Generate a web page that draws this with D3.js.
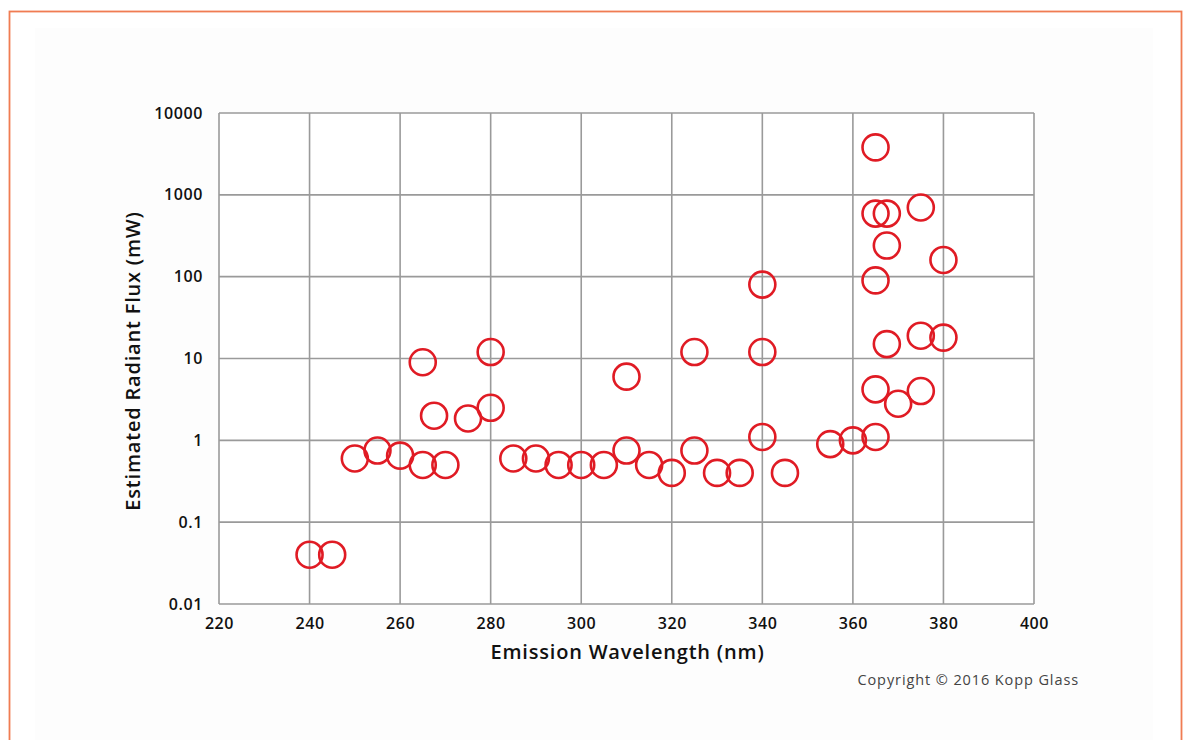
<!DOCTYPE html>
<html>
<head>
<meta charset="utf-8">
<script src="https://cdn.jsdelivr.net/npm/d3@7"></script>
<style>
  body { margin: 0; background: #fff; }
  svg { display: block; }
</style>
</head>
<body>
<script>
// emission wavelength (nm) and estimated radiant flux (mW)
const wavelengths = [240, 245, 250, 255, 260, 265, 270, 265, 267.5, 275, 280, 280,
  285, 290, 295, 300, 305, 310, 310, 315, 320, 325, 325, 330, 335,
  340, 340, 340, 345, 355, 360, 365, 365, 365, 365, 365,
  367.5, 367.5, 367.5, 370, 375, 375, 375, 380, 380]
const flux = [0.04, 0.04, 0.6, 0.75, 0.65, 0.5, 0.5, 9, 2, 1.85, 2.5, 12,
  0.6, 0.6, 0.5, 0.5, 0.5, 6, 0.75, 0.5, 0.4, 12, 0.75, 0.4, 0.4,
  80, 12, 1.1, 0.4, 0.9, 1, 1.1, 4.2, 90, 590, 3800,
  590, 240, 15, 2.8, 4, 19, 700, 18, 160]

const xTicks = [220, 240, 260, 280, 300, 320, 340, 360, 380, 400]
const yTicks = [0.01, 0.1, 1, 10, 100, 1000, 10000]
const yTickLabels = ["0.01", "0.1", "1", "10", "100", "1000", "10000"]

const width = 1186, height = 740
const margin = {top: 113, right: 152, bottom: 136, left: 219}
const font = "'Open Sans', sans-serif"

const svg = d3.select("body").append("svg")
  .attr("width", width)
  .attr("height", height)

// frame
svg.append("rect")
  .attr("x", 35).attr("y", 28)
  .attr("width", 1118).attr("height", 720)
  .attr("fill", "#fdfdfd")
svg.append("rect")
  .attr("x", 9.5).attr("y", 11.5)
  .attr("width", 1172).attr("height", 740)
  .attr("fill", "none")
  .attr("stroke", "#f07c52")
  .attr("stroke-width", 1.8)

let x = d3.scaleLinear()
  .domain([220, 400])
  .range([margin.left, width - margin.right])

let y = d3.scaleLog()
  .domain([0.01, 10000])
  .range([height - margin.bottom, margin.top])

// plot background
svg.append("rect")
  .attr("x", x(220)).attr("y", y(10000))
  .attr("width", x(400) - x(220)).attr("height", y(0.01) - y(10000))
  .attr("fill", "#fff")

// grid
svg.append("g")
  .selectAll("line")
  .data(xTicks)
  .join("line")
  .attr("x1", d => x(d)).attr("x2", d => x(d))
  .attr("y1", y(10000)).attr("y2", y(0.01))
  .attr("stroke", "#9a9a9a")
  .attr("stroke-width", 1.6)

svg.append("g")
  .selectAll("line")
  .data(yTicks)
  .join("line")
  .attr("x1", x(220)).attr("x2", x(400))
  .attr("y1", d => y(d)).attr("y2", d => y(d))
  .attr("stroke", "#9a9a9a")
  .attr("stroke-width", 1.6)

// axes (labels only)
let xAxis = svg.append("g")
  .attr("transform", `translate(0,${y(0.01)})`)
  .call(d3.axisBottom(x).tickValues(xTicks).tickSize(0).tickPadding(14).tickFormat(d3.format("d")))
xAxis.select(".domain").remove()
xAxis.selectAll("text")
  .attr("font-family", font).attr("font-size", 16).attr("font-weight", 600)
  .attr("letter-spacing", 0.6).attr("fill", "#111")

let yAxis = svg.append("g")
  .attr("transform", `translate(${x(220)},0)`)
  .call(d3.axisLeft(y).tickValues(yTicks).tickSize(0).tickPadding(16)
    .tickFormat((d, i) => yTickLabels[i]))
yAxis.select(".domain").remove()
yAxis.selectAll("text")
  .attr("font-family", font).attr("font-size", 16).attr("font-weight", 600)
  .attr("letter-spacing", 0.6).attr("fill", "#111")

// points
svg.append("g")
  .selectAll("circle")
  .data(wavelengths.map((w, i) => ({w: w, f: flux[i]})))
  .join("circle")
  .attr("cx", d => x(d.w))
  .attr("cy", d => y(d.f))
  .attr("r", 13)
  .attr("fill", "none")
  .attr("stroke", "#e01b24")
  .attr("stroke-width", 2.6)

// titles
svg.append("text")
  .attr("x", (x(220) + x(400)) / 2 + 1)
  .attr("y", 659)
  .attr("text-anchor", "middle")
  .attr("font-family", font).attr("font-size", 20).attr("font-weight", 600)
  .attr("letter-spacing", 0.8).attr("fill", "#111")
  .text("Emission Wavelength (nm)")

svg.append("text")
  .attr("transform", "translate(140,361) rotate(-90)")
  .attr("text-anchor", "middle")
  .attr("font-family", font).attr("font-size", 20).attr("font-weight", 600)
  .attr("letter-spacing", 0.8).attr("fill", "#111")
  .text("Estimated Radiant Flux (mW)")

svg.append("text")
  .attr("x", 1079)
  .attr("y", 685)
  .attr("text-anchor", "end")
  .attr("font-family", font).attr("font-size", 14.5)
  .attr("letter-spacing", 0.9).attr("fill", "#444")
  .text("Copyright © 2016 Kopp Glass")
</script>
</body>
</html>
